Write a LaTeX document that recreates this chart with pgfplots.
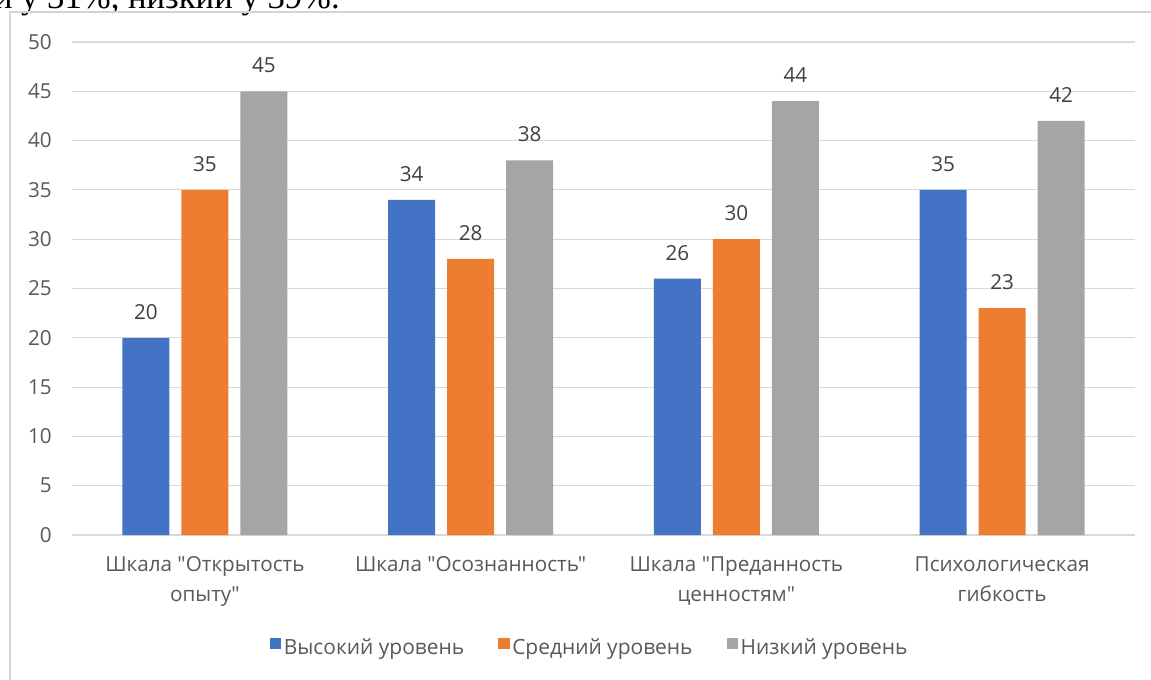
\documentclass[border=0pt]{standalone}
\usepackage{pgfplots}
\pgfplotsset{compat=1.18}
\usepackage{fontspec}
\setmainfont{Open Sans}[Ligatures=TeXOff]
\newfontfamily\serif{Liberation Serif}
\definecolor{cblue}{HTML}{4472C4}
\definecolor{corange}{HTML}{ED7D31}
\definecolor{cgray}{HTML}{A5A5A5}
\definecolor{ctext}{HTML}{595959}
\definecolor{clabel}{HTML}{404040}
\definecolor{cgrid}{HTML}{D9D9D9}
\definecolor{cborder}{HTML}{D4D4D4}
\begin{document}
\begin{tikzpicture}
\useasboundingbox (0,0) rectangle (863.25pt,509.25pt);
\clip (0,0) rectangle (863.25pt,509.25pt);
\fill[white] (0,0) rectangle (863.25pt,509.25pt);
\node[anchor=base east, inner sep=0pt, font=\serif\fontsize{26}{30}\selectfont] at (255pt,502.5pt) {и у 31\%, низкий у 39\%.};
\draw[cborder, line width=1.3pt] (7.5pt,-10pt) -- (7.5pt,500pt) -- (900pt,500pt);
\begin{axis}[
  at={(54pt,108pt)}, anchor=south west,
  scale only axis, width=797.25pt, height=369.75pt,
  ybar=9pt, bar width=35.25pt,
  xmin=-0.5, xmax=3.5, ymin=0, ymax=50,
  ytick={0,5,...,50},
  xtick=data,
  xticklabels={{\rule{0pt}{12pt}Шкала "Открытость\\опыту"},{\rule{0pt}{12pt}Шкала "Осознанность"},{\rule{0pt}{12pt}Шкала "Преданность\\ценностям"},{\rule{0pt}{12pt}Психологическая\\гибкость}},
  axis line style={draw=none},
  major tick length=0pt,
  ymajorgrids, grid style={cgrid, line width=0.8pt},
  tick label style={font=\fontsize{15.5}{22.5}\selectfont, text=ctext},
  /pgf/number format/assume math mode=true,
  yticklabel style={inner sep=0pt, xshift=-15pt},
  xticklabel style={inner sep=0pt, anchor=north, align=center, yshift=-15pt},
  nodes near coords,
  every node near coord/.append style={font=\fontsize{15.5}{18}\selectfont, text=clabel, inner sep=0pt, anchor=south, yshift=13.5pt},
  legend columns=3,
  legend style={at={(axis description cs:0.4873,-0.2292)}, anchor=center, draw=none, fill=none,
    font=\fontsize{15.7}{18}\selectfont, text=ctext,
    /tikz/every even column/.append style={column sep=23.5pt}},
  legend image code/.code={\fill[#1] (-4pt,-1pt) rectangle (4.5pt,7.5pt);},
]
\addplot[fill=cblue, draw=none] coordinates {(0,20) (1,34) (2,26) (3,35)};
\addplot[fill=corange, draw=none] coordinates {(0,35) (1,28) (2,30) (3,23)};
\addplot[fill=cgray, draw=none] coordinates {(0,45) (1,38) (2,44) (3,42)};
\legend{Высокий уровень, Средний уровень, Низкий уровень}
\end{axis}
\end{tikzpicture}
\end{document}
